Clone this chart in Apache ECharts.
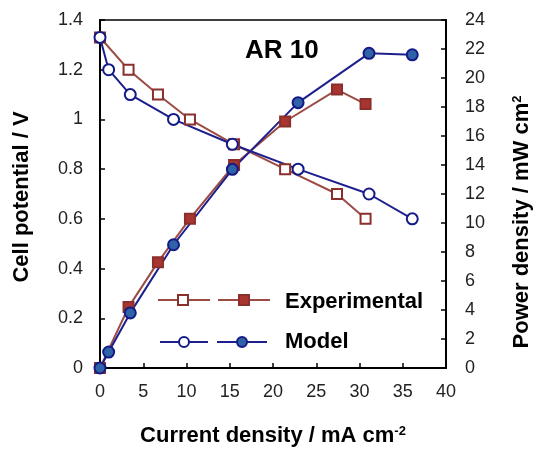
<!DOCTYPE html>
<html>
<head>
<meta charset="utf-8">
<script src="https://cdn.jsdelivr.net/npm/echarts@6/dist/echarts.min.js"></script>
<style>
  html, body { margin: 0; padding: 0; background: #fff; }
  #chart { width: 538px; height: 450px; }
</style>
</head>
<body>
<div id="chart"></div>
<script>
// Current density (mA cm-2) for each data set
var expCurrent = [0, 3.3, 6.7, 10.4, 15.5, 21.4, 27.4, 30.7];
var modelCurrent = [0, 1.0, 3.5, 8.5, 15.3, 22.9, 31.1, 36.1];

// Cell potential (V)
var expPotential = [1.33, 1.2, 1.1, 1.0, 0.9, 0.8, 0.7, 0.6];
var modelPotential = [1.33, 1.2, 1.1, 1.0, 0.9, 0.8, 0.7, 0.6];

// Power density (mW cm-2)
var expPower = [0, 4.2, 7.3, 10.3, 14.0, 17.0, 19.2, 18.2];
var modelPower = [0, 1.1, 3.8, 8.5, 13.7, 18.3, 21.7, 21.6];

// Axis settings
var xTicks = { min: 0, max: 40, step: 5 };
var leftTicks = { min: 0, max: 1.4, step: 0.2 };
var rightTicks = { min: 0, max: 24, step: 2 };

var EXP_LINE = '#9c4b45';
var EXP_EDGE = '#8a2f2c';
var EXP_FILL = '#a8352f';
var MOD_LINE = '#1c1f8c';
var MOD_EDGE = '#141a86';
var MOD_FILL = '#2f62a6';
var FONT = 'Liberation Sans, Arial, sans-serif';

function pairs(xs, ys) {
  return xs.map(function (x, i) { return [x, ys[i]]; });
}

var chart = echarts.init(document.getElementById('chart'));

var tickLabel = { color: '#222', fontSize: 18, fontFamily: FONT };
var supStyle = { fontSize: 13, fontWeight: 'bold', fontFamily: FONT, verticalAlign: 'top', lineHeight: 12, padding: [0, 0, 10, 0] };
var axisTitle = { color: '#000', fontSize: 22, fontWeight: 'bold', fontFamily: FONT, rich: { sup: supStyle } };

function lineSeries(name, xs, ys, yIdx, symbol, lineColor, edge, fill) {
  return {
    name: name,
    type: 'line',
    yAxisIndex: yIdx,
    data: pairs(xs, ys),
    symbol: symbol,
    symbolSize: symbol === 'rect' ? 10 : 11,
    showAllSymbol: true,
    lineStyle: { color: lineColor, width: 2 },
    itemStyle: { color: fill, borderColor: edge, borderWidth: 2 },
    animation: false,
    z: 3
  };
}

// Vertical axis title drawn as rotated text
function verticalTitle(text, cx, cy) {
  return {
    type: 'text', x: cx, y: cy, rotation: Math.PI / 2,
    style: {
      text: text, fill: '#000', font: 'bold 22px ' + FONT,
      align: 'center', verticalAlign: 'middle',
      rich: { sup: Object.assign({ fill: '#000' }, supStyle) }
    }
  };
}

var axisTickStyle = { show: true, inside: true, length: 5, lineStyle: { color: '#000', width: 1.5 } };
var axisLineStyle = { show: true, lineStyle: { color: '#000', width: 2 } };

var option = {
  backgroundColor: '#fff',
  animation: false,
  grid: { left: 100, right: 92, top: 20, bottom: 82, show: true, borderColor: '#000', borderWidth: 1.5,
          containLabel: false, outerBoundsMode: 'none' },
  xAxis: {
    type: 'value', min: xTicks.min, max: xTicks.max, interval: xTicks.step,
    axisLine: axisLineStyle,
    axisTick: axisTickStyle,
    axisLabel: Object.assign({ margin: 15 }, tickLabel),
    splitLine: { show: false },
    name: 'Current density / mA cm{sup|-2}',
    nameLocation: 'middle', nameGap: 57,
    nameTextStyle: axisTitle
  },
  yAxis: [{
    type: 'value', min: leftTicks.min, max: leftTicks.max, interval: leftTicks.step,
    axisLine: axisLineStyle,
    axisTick: axisTickStyle,
    axisLabel: Object.assign({ margin: 17, formatter: function (v) { return String(Math.round(v * 10) / 10); } }, tickLabel),
    splitLine: { show: false }
  }, {
    type: 'value', position: 'right', min: rightTicks.min, max: rightTicks.max, interval: rightTicks.step,
    axisLine: axisLineStyle,
    axisTick: axisTickStyle,
    axisLabel: Object.assign({ margin: 19 }, tickLabel),
    splitLine: { show: false }
  }],
  series: [
    lineSeries('Experimental potential', expCurrent, expPotential, 0, 'rect', EXP_LINE, EXP_EDGE, '#fff'),
    lineSeries('Experimental power', expCurrent, expPower, 1, 'rect', EXP_LINE, EXP_EDGE, EXP_FILL),
    lineSeries('Model potential', modelCurrent, modelPotential, 0, 'circle', MOD_LINE, MOD_EDGE, '#fff'),
    lineSeries('Model power', modelCurrent, modelPower, 1, 'circle', MOD_LINE, MOD_EDGE, MOD_FILL)
  ],
  graphic: [
    verticalTitle('Cell potential / V', 22, 197),
    verticalTitle('Power density / mW cm{sup|2}', 522, 222),
    { type: 'text', x: 245, y: 51, style: { text: 'AR 10', font: 'bold 26px ' + FONT, fill: '#000', verticalAlign: 'middle' } },
    // legend: experimental row
    { type: 'line', shape: { x1: 158, y1: 300, x2: 210, y2: 300 }, style: { stroke: EXP_LINE, lineWidth: 2 } },
    { type: 'rect', shape: { x: 178, y: 295, width: 10, height: 10 }, style: { fill: '#fff', stroke: EXP_EDGE, lineWidth: 2 } },
    { type: 'line', shape: { x1: 218, y1: 300, x2: 270, y2: 300 }, style: { stroke: EXP_LINE, lineWidth: 2 } },
    { type: 'rect', shape: { x: 239, y: 295, width: 10, height: 10 }, style: { fill: EXP_FILL, stroke: EXP_EDGE, lineWidth: 2 } },
    { type: 'text', x: 285, y: 302, style: { text: 'Experimental', font: 'bold 22px ' + FONT, fill: '#000', verticalAlign: 'middle' } },
    // legend: model row
    { type: 'line', shape: { x1: 160, y1: 342, x2: 208, y2: 342 }, style: { stroke: MOD_LINE, lineWidth: 2 } },
    { type: 'circle', shape: { cx: 184, cy: 342, r: 5 }, style: { fill: '#fff', stroke: MOD_EDGE, lineWidth: 2 } },
    { type: 'line', shape: { x1: 217, y1: 342, x2: 267, y2: 342 }, style: { stroke: MOD_LINE, lineWidth: 2 } },
    { type: 'circle', shape: { cx: 242, cy: 342, r: 5 }, style: { fill: MOD_FILL, stroke: MOD_EDGE, lineWidth: 2 } },
    { type: 'text', x: 285, y: 342, style: { text: 'Model', font: 'bold 22px ' + FONT, fill: '#000', verticalAlign: 'middle' } }
  ]
};

chart.setOption(option);
</script>
</body>
</html>
